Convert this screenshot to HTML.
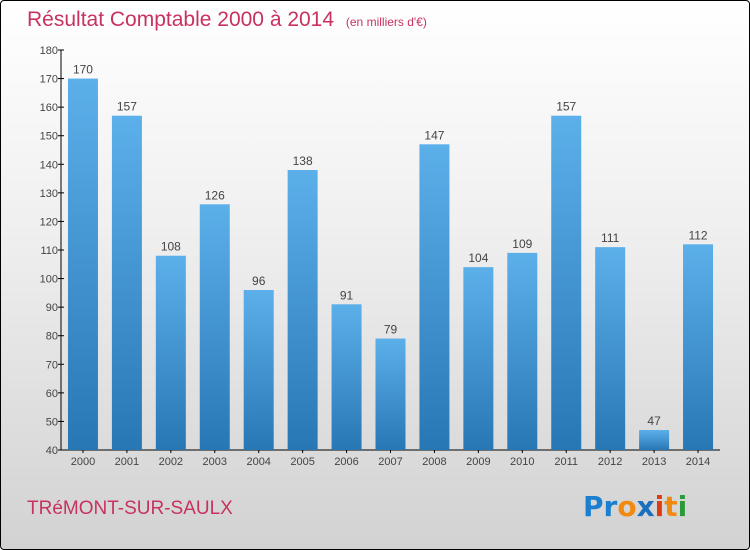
<!DOCTYPE html>
<html><head><meta charset="utf-8"><style>
html,body{margin:0;padding:0}
body{width:750px;height:550px;overflow:hidden;font-family:"Liberation Sans","DejaVu Sans",sans-serif}
#wrap{position:absolute;left:0;top:0;width:748px;height:548px;border:1px solid #000;border-radius:4px;background:linear-gradient(#ffffff 0%,#f0f0f0 40%,#d2d2d2 100%)}
</style></head><body>
<div id="wrap">
<svg id="chart" width="750" height="550" style="position:absolute;left:-1px;top:-1px">
<defs><linearGradient id="bg" x1="0" y1="0" x2="0" y2="1"><stop offset="0" stop-color="#5cb0ea"/><stop offset="1" stop-color="#2877b5"/></linearGradient></defs>
<text x="27" y="26" font-size="21" fill="#c8325f">Résultat Comptable 2000 à 2014 <tspan font-size="12" dx="6">(en milliers d'€)</tspan></text>
<text x="27" y="514" font-size="19" fill="#c8325f">TRéMONT-SUR-SAULX</text>
<g font-size="28" font-weight="bold" font-family="'DejaVu Sans',sans-serif">
<text x="583" y="516"><tspan fill="#1a7fd0">Pr</tspan><tspan fill="#f08a10">o</tspan><tspan fill="#1a6fc0">x</tspan><tspan fill="#e03a10">i</tspan><tspan fill="#f08a10">t</tspan><tspan fill="#2a9a3a">i</tspan></text>
</g>
<g id="axes"></g><g id="bars"></g>
</svg>
</div>
<script>
const categories=["2000","2001","2002","2003","2004","2005","2006","2007","2008","2009","2010","2011","2012","2013","2014"];
const values=[170,157,108,126,96,138,91,79,147,104,109,157,111,47,112];
const ticks=[40,50,60,70,80,90,100,110,120,130,140,150,160,170,180];
const NS="http://www.w3.org/2000/svg";
const x0=61,x1=720,yTop=50,yBot=450,vmin=40,vmax=180;
const y=v=>yBot-(v-vmin)/(vmax-vmin)*(yBot-yTop);
const step=(x1-x0)/categories.length;
const xc=i=>x0+step*(i+0.5);
function mk(t,a,p){const e=document.createElementNS(NS,t);for(const k in a)e.setAttribute(k,a[k]);p.appendChild(e);return e;}
const ax=document.getElementById('axes'),bs=document.getElementById('bars');
const yl=mk('line',{x1:x0,y1:yTop,x2:x0,y2:yBot,stroke:'#000'},ax);


const xl=mk('line',{x1:x0,y1:yBot,x2:x1,y2:yBot,stroke:'#000'},ax);


ticks.forEach(t=>{
 mk('line',{x1:x0-3,y1:y(t),x2:x0+3,y2:y(t),stroke:'#000'},ax);
 const tx=mk('text',{x:x0-3,y:y(t)+4,'font-size':11,fill:'#444','text-anchor':'end'},ax);
 tx.textContent=t;
 
 
});
categories.forEach((c,i)=>{
 const v=values[i],w=30;
 const r=mk('rect',{x:xc(i)-w/2,y:y(v),width:w,height:yBot-y(v),fill:'url(#bg)'},bs);
 
 
 const l=mk('text',{x:xc(i),y:y(v)-5,'font-size':12,fill:'#444','text-anchor':'middle'},bs);
 l.textContent=v;
 
 
 mk('line',{x1:xc(i),y1:yBot,x2:xc(i),y2:yBot+3,stroke:'#000'},ax);
 const t=mk('text',{x:xc(i),y:yBot+15,'font-size':11,fill:'#444','text-anchor':'middle'},ax);
 t.textContent=c;
 
 
});
</script>
</body></html>
